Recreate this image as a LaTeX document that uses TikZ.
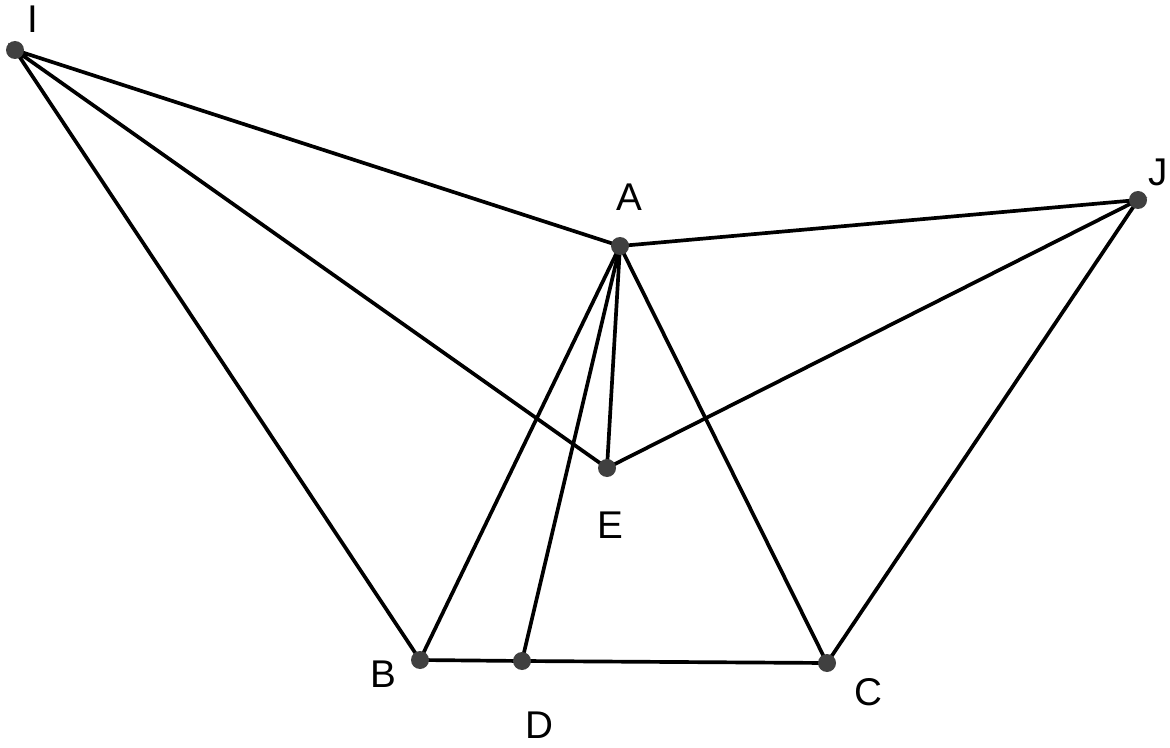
\documentclass[tikz,border=0pt]{standalone}
\usepackage{fontspec}
\setmainfont{Liberation Sans}
\tikzset{
  pt/.style={circle,fill=black!75,inner sep=0pt,minimum size=0.36cm},
  lbl/.style={font=\fontsize{22}{26}\selectfont,inner sep=0pt}
}
\begin{document}
\begin{tikzpicture}
    \useasboundingbox (0,0) rectangle (23.4,14.94);
    \coordinate (I) at (0.30, 13.94);
    \coordinate (A) at (12.40, 10.02);
    \coordinate (J) at (22.76, 10.94);
    \coordinate (E) at (12.14, 5.58);
    \coordinate (B) at (8.40, 1.74);
    \coordinate (D) at (10.44, 1.72);
    \coordinate (C) at (16.54, 1.68);
    \draw[line width=2.1pt] (I) -- (A) -- (J) -- (E) -- (I) -- (B) -- (D) -- (C) -- (J);
    \draw[line width=2.1pt] (A) -- (E);
    \draw[line width=2.1pt] (A) -- (B);
    \draw[line width=2.1pt] (A) -- (D);
    \draw[line width=2.1pt] (A) -- (C);
    \foreach \p in {I,A,J,E,B,D,C}
      \node[pt] at (\p) {};
    \node[lbl] (lI) at (0.66, 14.56) {I};
    \node[lbl] (lA) at (12.58, 11.00) {A};
    \node[lbl] (lJ) at (23.16, 11.50) {J};
    \node[lbl] (lE) at (12.20, 4.44) {E};
    \node[lbl] (lB) at (7.66, 1.46) {B};
    \node[lbl] (lD) at (10.78, 0.44) {D};
    \node[lbl] (lC) at (17.36, 1.10) {C};
  \end{tikzpicture}
\end{document}
